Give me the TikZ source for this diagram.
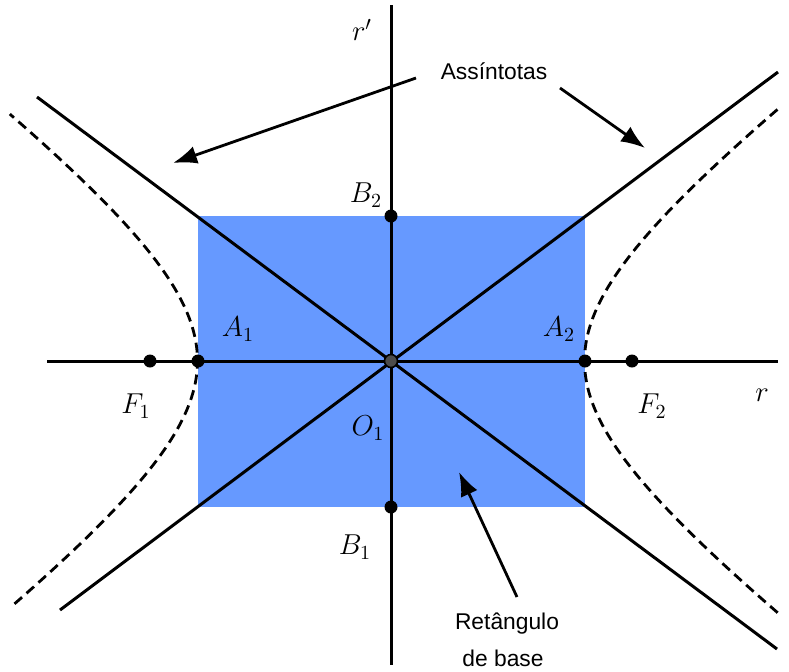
\documentclass[tikz,border=0pt]{standalone}
\usepackage{fontspec}
\setsansfont{Liberation Sans}
\usetikzlibrary{arrows.meta}
\definecolor{rectblue}{HTML}{6699FF}
\begin{document}
\begin{tikzpicture}[x=0.5pt,y=-0.5pt,
  axis/.style={line width=1.5pt},
  hyp/.style={line width=1.4pt,dash pattern=on 5pt off 3pt},
  dot/.style={circle,fill=black,inner sep=0pt,minimum size=6.5pt},
  odot/.style={circle,fill=black!70,draw=black,line width=0.8pt,inner sep=0pt,minimum size=6.5pt},
  lbl/.style={font=\fontsize{14}{16}\selectfont},
  txt/.style={font=\sffamily\fontsize{11.4}{13}\selectfont},
  pointer/.style={line width=1.4pt,-{Latex[length=12pt,width=9pt]}}]
\useasboundingbox (0,0) rectangle (789,671);
\fill[rectblue] (198,216) rectangle (585,507);
% axes
\coordinate (rl) at (47,361); \coordinate (rr) at (778,361);
\coordinate (vt) at (391,5); \coordinate (vb) at (391,665);
\draw[axis] (rl) -- (rr);
\draw[axis] (vt) -- (vb);
% asymptotes
\coordinate (s1a) at (37,97); \coordinate (s1b) at (777,649);
\coordinate (s2a) at (60,610); \coordinate (s2b) at (778,72);
\draw[axis] (s1a) -- (s1b);
\draw[axis] (s2a) -- (s2b);
% hyperbola branches
\draw[hyp] plot[domain=-1.285:1.30,samples=80,smooth,variable=\t]
  ({391-193.5*(exp(\t)+exp(-\t))/2},{361-145.5*(exp(\t)-exp(-\t))/2});
\draw[hyp] plot[domain=-1.316:1.32,samples=80,smooth,variable=\t]
  ({391+193.5*(exp(\t)+exp(-\t))/2},{361-145.5*(exp(\t)-exp(-\t))/2});
% points
\node[dot] (F1) at (150,361) {};
\node[dot] (A1) at (198,361) {};
\node[dot] (A2) at (585,361) {};
\node[dot] (F2) at (632,361) {};
\node[dot] (B2) at (391,216) {};
\node[dot] (B1) at (391,507) {};
\node[odot] (O) at (391,361) {};
% labels
\node[lbl] (lrp) at (362,30) {$r'$};
\node[lbl] (lB2) at (366,195) {$B_2$};
\node[lbl] (lA1) at (238,329) {$A_1$};
\node[lbl] (lA2) at (559,329) {$A_2$};
\node[lbl] (lF1) at (136,406) {$F_1$};
\node[lbl] (lO1) at (368,428) {$O_1$};
\node[lbl] (lF2) at (652,406) {$F_2$};
\node[lbl] (lr) at (762,395) {$r$};
\node[lbl] (lB1) at (355,547) {$B_1$};
% texts
\node[txt] (asy) at (494,71) {Assíntotas};
\node[txt] (ret1) at (507,624) {Retângulo};
\node[txt] (ret2) at (503,658) {de base};
% pointers
\coordinate (p1s) at (416,78); \coordinate (p1e) at (173,163);
\coordinate (p2s) at (560,88); \coordinate (p2e) at (645,148);
\coordinate (p3s) at (517,597); \coordinate (p3e) at (459,472);
\draw[pointer] (p1s) -- (p1e);
\draw[pointer] (p2s) -- (p2e);
\draw[pointer] (p3s) -- (p3e);
\end{tikzpicture}
\end{document}
